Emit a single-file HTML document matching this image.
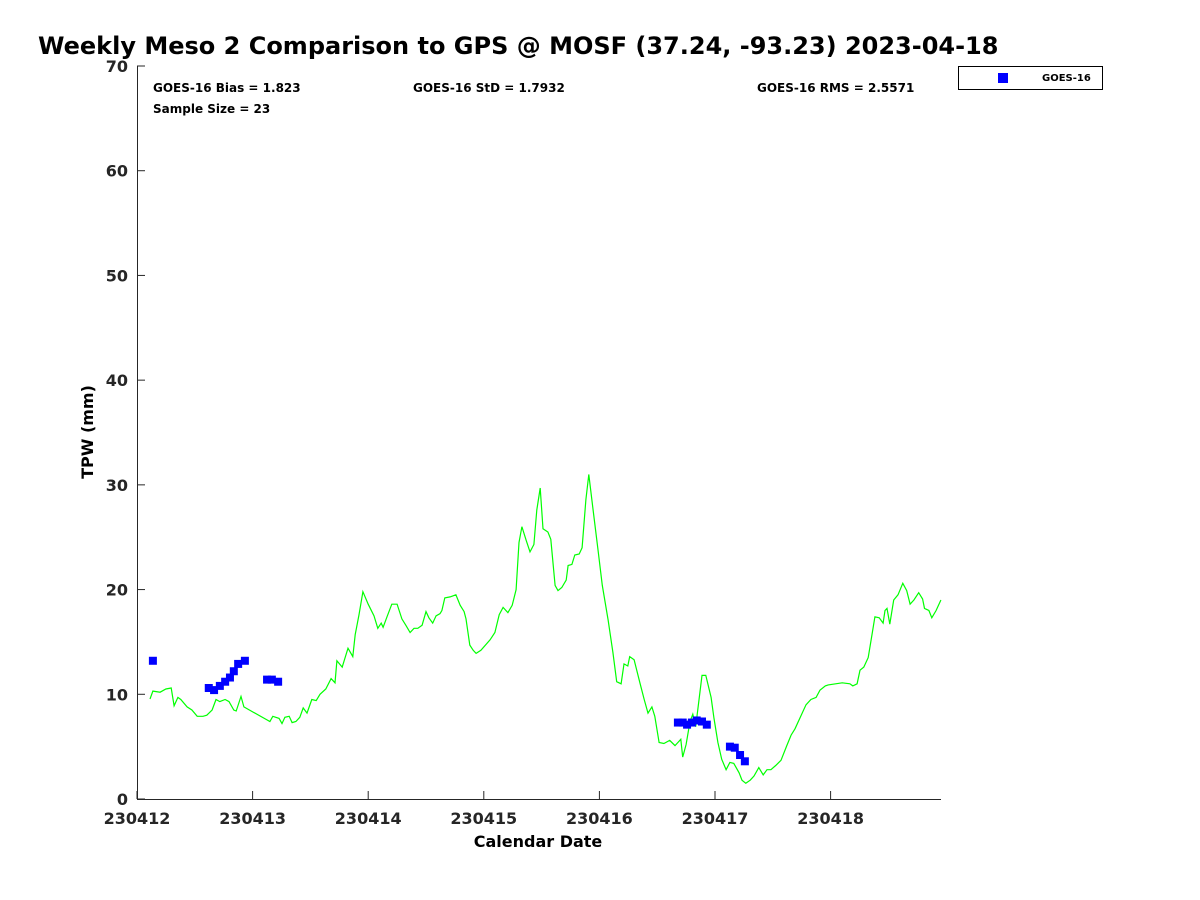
<!DOCTYPE html>
<html><head><meta charset="utf-8"><style>
body{margin:0;background:#fff;}
svg{display:block;font-family:"DejaVu Sans","Liberation Sans",sans-serif;}
</style></head><body>
<svg id="chart" width="1200" height="900" viewBox="0 0 1200 900">
<text x="38" y="54" font-size="24" font-weight="bold">Weekly Meso 2 Comparison to GPS @ MOSF (37.24, -93.23) 2023-04-18</text>
<g id="axes"></g>
<g id="series"></g>
<text x="153" y="92" font-size="12" font-weight="bold">GOES-16 Bias = 1.823</text>
<text x="153" y="113" font-size="12" font-weight="bold">Sample Size = 23</text>
<text x="413" y="92" font-size="12" font-weight="bold">GOES-16 StD = 1.7932</text>
<text x="757" y="92" font-size="12" font-weight="bold">GOES-16 RMS = 2.5571</text>
<g>
<rect x="958.5" y="66.5" width="144" height="23" fill="#fff" stroke="#000"/>
<rect x="998" y="73" width="10" height="10" fill="#0000ff"/>
<text x="1042" y="81" font-size="10" font-weight="bold">GOES-16</text>
</g>
<text x="538" y="847" font-size="16" font-weight="bold" text-anchor="middle">Calendar Date</text>
<text transform="translate(93,432) rotate(-90)" font-size="16" font-weight="bold" text-anchor="middle">TPW (mm)</text>
</svg>
<script>
// hours since 230412 00Z and TPW (mm)
const gpsHours=[2.7,3.3,4.8,6.0,7.1,7.7,8.5,9.1,10.4,11.4,12.5,13.7,14.5,15.6,16.4,17.2,18.3,19.1,20.1,20.6,21.6,22.2,24.1,26.8,27.6,28.2,29.5,30.1,30.7,31.6,32.2,33.0,33.8,34.5,35.3,36.3,37.2,38.0,39.2,40.3,41.1,41.5,42.6,43.8,44.8,45.3,46.1,46.9,48.0,49.2,50.0,50.7,51.1,51.9,52.9,54.0,55.0,55.8,56.7,57.5,58.3,59.2,60.0,60.6,61.4,62.1,62.9,63.3,63.9,65.0,66.2,67.1,67.9,68.3,69.1,69.8,70.4,71.4,73.3,74.3,75.2,76.0,77.0,77.9,78.7,79.3,79.9,80.8,81.6,82.4,83.0,83.7,84.3,85.3,85.9,86.8,87.4,88.2,89.1,89.5,90.3,90.9,91.8,92.4,93.2,93.8,94.7,95.7,96.6,97.8,98.8,99.6,100.5,101.1,101.9,102.3,103.2,104.4,105.3,106.1,106.9,107.5,108.4,109.4,110.6,111.7,112.3,112.9,113.3,114.0,114.8,115.4,116.0,117.3,118.1,119.2,119.8,120.6,121.4,122.3,123.1,123.9,125.0,125.6,126.4,127.3,128.1,129.1,130.0,130.8,131.6,132.6,133.7,134.9,135.8,136.6,138.9,139.9,141.0,141.8,142.9,143.5,146.4,148.0,148.6,149.5,150.1,150.9,151.8,152.6,153.2,154.1,154.9,155.3,155.7,156.3,157.1,158.0,159.0,159.8,160.5,161.3,162.3,163.1,163.5,164.4,165.0,165.9,166.9];
const gpsTpw=[9.55,10.3,10.2,10.5,10.6,8.9,9.7,9.5,8.8,8.5,7.9,7.9,8.0,8.5,9.5,9.3,9.5,9.3,8.5,8.4,9.8,8.8,8.3,7.6,7.4,7.9,7.7,7.2,7.8,7.9,7.3,7.4,7.8,8.7,8.2,9.5,9.4,10.0,10.5,11.5,11.1,13.2,12.6,14.4,13.6,15.7,17.6,19.8,18.6,17.5,16.3,16.8,16.4,17.4,18.6,18.6,17.2,16.6,15.9,16.3,16.3,16.6,17.9,17.3,16.8,17.5,17.7,18.0,19.2,19.3,19.5,18.5,17.9,17.2,14.7,14.2,13.9,14.2,15.2,15.9,17.6,18.3,17.8,18.5,20.0,24.5,26.0,24.7,23.6,24.3,27.6,29.7,25.8,25.5,24.8,20.4,19.9,20.2,20.9,22.3,22.4,23.3,23.4,24.0,28.6,31.0,27.6,23.8,20.4,17.1,14.0,11.2,11.0,12.9,12.7,13.6,13.3,11.1,9.5,8.2,8.8,7.9,5.4,5.3,5.6,5.1,5.4,5.7,4.0,5.2,7.4,8.1,6.9,11.8,11.8,9.7,7.7,5.4,3.8,2.8,3.5,3.4,2.5,1.8,1.5,1.8,2.2,3.0,2.3,2.8,2.8,3.2,3.7,5.1,6.1,6.7,9.0,9.5,9.7,10.4,10.8,10.9,11.1,11.0,10.8,11.0,12.3,12.6,13.5,15.7,17.4,17.3,16.8,18.0,18.2,16.7,19.0,19.5,20.6,19.9,18.6,19.0,19.7,19.1,18.2,18.0,17.3,18.0,19.0];
const goesHours=[3.3,14.9,16.0,17.2,18.3,19.3,20.1,21.0,22.4,27.0,28.0,29.3,112.3,113.3,114.2,115.2,116.2,117.3,118.3,123.1,124.1,125.2,126.2];
const goesTpw=[13.2,10.6,10.4,10.8,11.2,11.6,12.2,12.9,13.2,11.4,11.4,11.2,7.3,7.3,7.1,7.3,7.5,7.4,7.1,5.0,4.9,4.2,3.6];
const xTickLabels=["230412","230413","230414","230415","230416","230417","230418"];
const yTicks=[0,10,20,30,40,50,60,70];

const NS="http://www.w3.org/2000/svg";
const X0=137,X1=941,PXD=115.6,Y0=799,Y1=66,YMAX=70;
const xs=h=>X0+h/24*PXD;
const ys=v=>Y0-(Y0-Y1)*v/YMAX;
function mk(t,a,p){const e=document.createElementNS(NS,t);for(const k in a)e.setAttribute(k,a[k]);p.appendChild(e);return e;}
const axes=document.getElementById('axes'),ser=document.getElementById('series');
const frame=mk('path',{d:`M${X0+0.5},${Y1} V${Y0+0.5} H${X1}`,fill:'none',stroke:'#262626','stroke-width':1},axes);


yTicks.forEach(v=>{
  const y=ys(v);
  const l=mk('line',{x1:X0,x2:X0+8,y1:y,y2:y,stroke:'#262626'},axes);
  
  
  const t=mk('text',{x:X0-9,y:y+6,'font-size':16,'font-weight':'bold','text-anchor':'end',fill:'#262626'},axes);
  
  
  t.textContent=v;
});
xTickLabels.forEach((s,i)=>{
  const x=xs(i*24);
  const l=mk('line',{x1:x,x2:x,y1:Y0,y2:Y0-8,stroke:'#262626'},axes);
  
  
  const t=mk('text',{x:x,y:Y0+25,'font-size':16,'font-weight':'bold','text-anchor':'middle',fill:'#262626'},axes);
  
  
  t.textContent=s;
});
const pts=gpsHours.map((h,i)=>xs(h).toFixed(1)+','+ys(gpsTpw[i]).toFixed(1)).join(' ');
const line=mk('polyline',{points:pts,fill:'none',stroke:'#00ff00','stroke-width':1.2},ser);


goesHours.forEach((h,i)=>{
  const r=mk('rect',{x:xs(h)-4,y:ys(goesTpw[i])-4,width:8,height:8,fill:'#0000ff'},ser);
  
  
});
</script>
</body></html>
